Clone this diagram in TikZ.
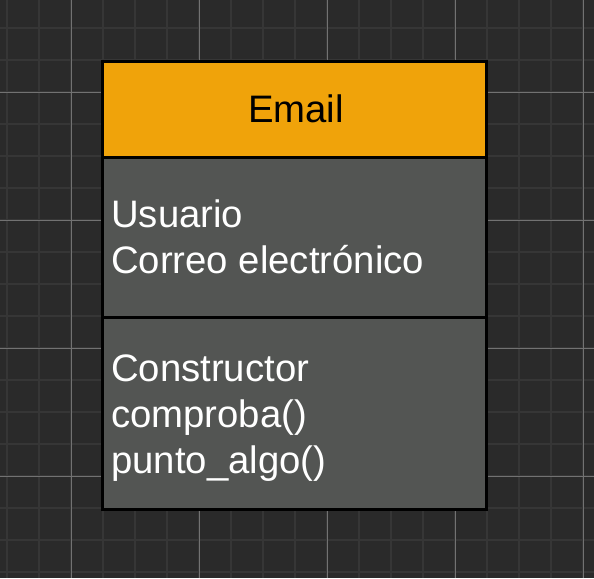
\documentclass[tikz,border=0pt]{standalone}
\usepackage{fontspec}
\setmainfont{Liberation Sans}
\definecolor{bgc}{HTML}{2A2A2A}
\definecolor{minorc}{HTML}{363636}
\definecolor{majorc}{HTML}{727272}
\definecolor{headc}{HTML}{F0A30A}
\definecolor{bodyc}{HTML}{535553}
\tikzset{
  minorline/.style={draw=minorc, line width=2pt},
  majorline/.style={draw=majorc, line width=1pt},
  boxborder/.style={draw=black, line width=3pt},
  txt/.style={inner sep=0pt, font=\fontsize{38.3}{46}\selectfont},
  titletxt/.style={txt, text=black, anchor=base},
  itemtxt/.style={txt, text=white, anchor=base west}
}
\begin{document}
\begin{tikzpicture}[x=1pt,y=-1pt]
\fill[bgc] (0,0) rectangle (594,578);
\useasboundingbox (0,0) rectangle (594,578);
\foreach \x in {7,39,...,590} \draw[minorline] (\x,0) -- (\x,578);
\foreach \y in {28,60,...,578} \draw[minorline] (0,\y) -- (594,\y);
\foreach \x in {71,199,327,455,583} \draw[majorline] (\x,0) -- (\x,578);
\foreach \y in {92,220,348,476} \draw[majorline] (0,\y) -- (594,\y);
% class box
\fill[headc] (102.5,61.5) rectangle (486.5,157.5);
\fill[bodyc] (102.5,157.5) rectangle (486.5,509);
\draw[boxborder] (102.5,157.5) -- (486.5,157.5);
\draw[boxborder] (102.5,317.5) -- (486.5,317.5);
\draw[boxborder] (102.5,61.5) rectangle (486.5,509);
\node[titletxt] (title) at (296,122.5) {Email};
\node[itemtxt] (attr1) at (111,227) {Usuario};
\node[itemtxt] (attr2) at (111,273) {Correo electrónico};
\node[itemtxt] (meth1) at (111,381) {Constructor};
\node[itemtxt] (meth2) at (111,427) {comproba()};
\node[itemtxt] (meth3) at (111,473) {punto\_algo()};
\end{tikzpicture}
\end{document}
